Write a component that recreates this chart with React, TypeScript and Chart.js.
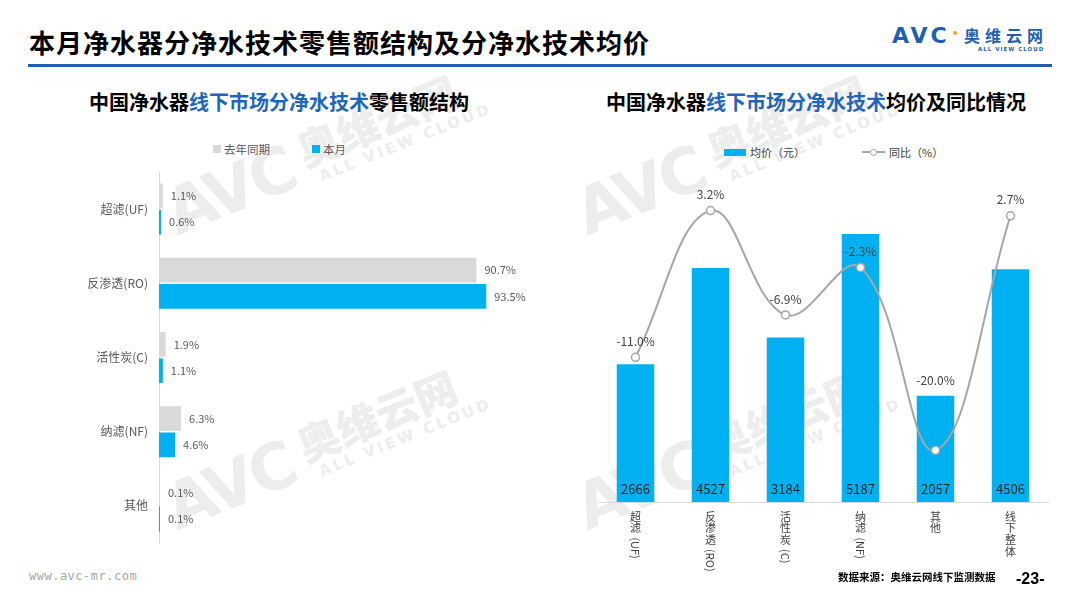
import React, { useEffect, useRef } from "react";
import { Chart, registerables } from "chart.js";

Chart.register(...registerables);

const CJK = "'Noto Sans CJK SC', 'Noto Sans', sans-serif";
Chart.defaults.font.family = CJK;

// ---- Data ----
const structCategories = ["超滤(UF)", "反渗透(RO)", "活性炭(C)", "纳滤(NF)", "其他"];
const lastYearShare = [1.1, 90.7, 1.9, 6.3, 0.1];
const thisMonthShare = [0.6, 93.5, 1.1, 4.6, 0.1];
const structSeriesNames = ["去年同期", "本月"];

const priceCategories = ["超滤(UF)", "反渗透(RO)", "活性炭(C)", "纳滤(NF)", "其他", "线下整体"];
const avgPrice = [2666, 4527, 3184, 5187, 2057, 4506];
const yoyChange = [-11.0, 3.2, -6.9, -2.3, -20.0, 2.7];
const priceSeriesNames = ["均价（元）", "同比（%）"];

const GREY = "#D9D9D9";
const BLUE = "#00B0F0";
const LINE_GREY = "#A6A6A6";

const structLabelPlugin = {
  id: "structLabels",
  afterDatasetsDraw(chart: any) {
    const ctx = chart.ctx;
    ctx.save();
    ctx.font = `11px ${CJK}`;
    ctx.fillStyle = "#595959";
    ctx.textBaseline = "middle";
    ctx.textAlign = "left";
    chart.data.datasets.forEach((ds: any, di: number) => {
      const meta = chart.getDatasetMeta(di);
      meta.data.forEach((el: any, i: number) => {
        const v = ds.data[i] as number;
        ctx.fillText(v.toFixed(1) + "%", el.x + 8, el.y);
      });
    });
    // category labels
    const ys = chart.scales.y;
    ctx.font = `12px ${CJK}`;
    ctx.textAlign = "right";
    (chart.data.labels as string[]).forEach((label, i) => {
      ctx.fillText(label, chart.chartArea.left - 11, ys.getPixelForValue(i));
    });
    ctx.restore();
  },
};

const priceLabelPlugin = {
  id: "priceLabels",
  afterDatasetsDraw(chart: any) {
    const ctx = chart.ctx;
    const barMeta = chart.getDatasetMeta(0);
    const lineMeta = chart.getDatasetMeta(1);
    const area = chart.chartArea;
    ctx.save();
    ctx.textAlign = "center";
    ctx.textBaseline = "middle";
    // bar values at the bottom of bars
    ctx.font = `13px ${CJK}`;
    ctx.fillStyle = "#262626";
    barMeta.data.forEach((el: any, i: number) => {
      ctx.fillText(String(chart.data.datasets[0].data[i]), el.x, area.bottom - 13);
    });
    // yoy labels
    ctx.font = `12px ${CJK}`;
    ctx.fillStyle = "#404040";
    lineMeta.data.forEach((pt: any, i: number) => {
      const bar = barMeta.data[i];
      let y = pt.y - 16;
      if (y > bar.y + 25) y = bar.y - 15;
      const v = chart.data.datasets[1].data[i] as number;
      ctx.fillText(v.toFixed(1) + "%", pt.x, y);
    });
    ctx.restore();
  },
  afterDraw(chart: any) {
    const ctx = chart.ctx;
    const xs = chart.scales.x;
    ctx.save();
    ctx.fillStyle = "#404040";
    (chart.data.labels as string[]).forEach((label, i) => {
      const x = xs.getPixelForValue(i);
      let y = chart.chartArea.bottom + 9;
      const segs = label.match(/[\u4e00-\u9fff]|[^\u4e00-\u9fff]+/g) || [];
      segs.forEach((seg) => {
        if (/[\u4e00-\u9fff]/.test(seg)) {
          ctx.font = `11px ${CJK}`;
          ctx.textAlign = "center";
          ctx.textBaseline = "top";
          ctx.fillText(seg, x, y);
          y += 11.7;
        } else {
          ctx.font = `11px ${CJK}`;
          y += 3;
          const w = ctx.measureText(seg).width;
          ctx.save();
          ctx.translate(x, y);
          ctx.rotate(Math.PI / 2);
          ctx.textAlign = "left";
          ctx.textBaseline = "middle";
          ctx.fillText(seg, 0, 0);
          ctx.restore();
          y += w + 2;
        }
      });
    });
    ctx.restore();
  },
};

function Watermark({ cx, cy }: { cx: number; cy: number }) {
  return (
    <div
      style={{
        position: "absolute",
        left: cx,
        top: cy,
        transform: "translate(-50%, -50%) rotate(-22deg)",
        display: "flex",
        alignItems: "flex-end",
        color: "#EDEDED",
        whiteSpace: "nowrap",
        fontWeight: 700,
        pointerEvents: "none",
      }}
    >
      <span style={{ fontFamily: "'DejaVu Sans', sans-serif", fontSize: 64, lineHeight: "60px", letterSpacing: -3 }}>AVC</span>
      <div style={{ marginLeft: 12, display: "flex", flexDirection: "column", alignItems: "flex-start" }}>
        <span style={{ fontFamily: CJK, fontSize: 42, lineHeight: "46px", fontWeight: 900 }}>奥维云网</span>
        <span style={{ fontFamily: "'DejaVu Sans', sans-serif", fontSize: 15, lineHeight: "18px", letterSpacing: 3, marginLeft: 10 }}>ALL VIEW CLOUD</span>
      </div>
    </div>
  );
}

export default function App() {
  const leftRef = useRef<HTMLCanvasElement>(null);
  const rightRef = useRef<HTMLCanvasElement>(null);

  useEffect(() => {
    const c1 = new Chart(leftRef.current as HTMLCanvasElement, {
      type: "bar",
      data: {
        labels: structCategories,
        datasets: [
          {
            label: structSeriesNames[0],
            data: lastYearShare,
            backgroundColor: GREY,
            categoryPercentage: 0.71,
            barPercentage: 0.94,
            minBarLength: 1,
          },
          {
            label: structSeriesNames[1],
            data: thisMonthShare,
            backgroundColor: BLUE,
            categoryPercentage: 0.71,
            barPercentage: 0.94,
            minBarLength: 1,
          },
        ],
      },
      options: {
        indexAxis: "y",
        responsive: false,
        animation: false,
        layout: { padding: { top: 7, bottom: 12, right: 31, left: 0 } },
        plugins: { legend: { display: false }, tooltip: { enabled: false } },
        scales: {
          x: { display: false, min: 0, max: 100 },
          y: {
            grid: { display: false, drawTicks: false },
            border: { display: true, color: GREY, width: 1 },
            ticks: { display: false },
            afterFit: (s: any) => {
              s.width = 79;
            },
          },
        },
      } as any,
      plugins: [structLabelPlugin],
    });

    const c2 = new Chart(rightRef.current as HTMLCanvasElement, {
      type: "bar",
      data: {
        labels: priceCategories,
        datasets: [
          {
            type: "bar",
            label: priceSeriesNames[0],
            data: avgPrice,
            backgroundColor: BLUE,
            yAxisID: "y",
            order: 2,
            categoryPercentage: 1,
            barPercentage: 0.5,
          },
          {
            type: "line",
            label: priceSeriesNames[1],
            data: yoyChange,
            yAxisID: "y2",
            borderColor: LINE_GREY,
            borderWidth: 2,
            tension: 0.4,
            pointRadius: 4,
            pointBackgroundColor: "#FFFFFF",
            pointBorderColor: LINE_GREY,
            pointBorderWidth: 1.5,
            order: 1,
            clip: false,
          },
        ],
      } as any,
      options: {
        responsive: false,
        animation: false,
        layout: { padding: { left: 8, right: 12, top: 22, bottom: 78 } },
        plugins: { legend: { display: false }, tooltip: { enabled: false } },
        scales: {
          x: {
            grid: { display: false, drawTicks: false },
            border: { display: true, color: GREY, width: 1 },
            ticks: { display: false },
          },
          y: { display: false, min: 0, max: 6000 },
          y2: { display: false, min: -25, max: 5 },
        },
      } as any,
      plugins: [priceLabelPlugin],
    });

    return () => {
      c1.destroy();
      c2.destroy();
    };
  }, []);

  const textBase: React.CSSProperties = { position: "absolute", whiteSpace: "nowrap", fontFamily: CJK };

  return (
    <div
      style={{
        position: "absolute",
        left: 0,
        top: 0,
        width: 1080,
        height: 608,
        background: "#FFFFFF",
        overflow: "hidden",
      }}
    >
      <Watermark cx={325} cy={150} />
      <Watermark cx={325} cy={445} />
      <Watermark cx={735} cy={150} />
      <Watermark cx={735} cy={445} />

      {/* Header */}
      <div style={{ ...textBase, left: 29, top: 27, fontSize: 26, lineHeight: "30px", fontWeight: 700, color: "#000", letterSpacing: 1 }}>
        本月净水器分净水技术零售额结构及分净水技术均价
      </div>
      <div style={{ position: "absolute", left: 28, top: 64, width: 1024, height: 3, background: "#1F5FAF" }} />

      {/* Logo */}
      <div style={{ ...textBase, left: 892, top: 23, fontFamily: "'DejaVu Sans', sans-serif", fontSize: 22, lineHeight: "26px", fontWeight: 700, color: "#1F5FAF", letterSpacing: 3 }}>
        AVC
      </div>
      <div style={{ position: "absolute", left: 953, top: 31, width: 4, height: 4, borderRadius: 2, background: "#F5A623" }} />
      <div style={{ ...textBase, left: 964, top: 25, fontSize: 16, lineHeight: "20px", fontWeight: 700, color: "#1F5FAF", letterSpacing: 5 }}>
        奥维云网
      </div>
      <div style={{ ...textBase, left: 978, top: 45, fontFamily: "'DejaVu Sans', sans-serif", fontSize: 5.5, lineHeight: "8px", fontWeight: 700, color: "#1F5FAF", letterSpacing: 1 }}>
        ALL VIEW CLOUD
      </div>

      {/* Left subtitle */}
      <div style={{ ...textBase, left: 279, top: 90, transform: "translateX(-50%)", fontSize: 20, lineHeight: "24px", fontWeight: 700, color: "#000" }}>
        中国净水器<span style={{ color: "#1F66B8" }}>线下市场分净水技术</span>零售额结构
      </div>
      {/* Right subtitle */}
      <div style={{ ...textBase, left: 816, top: 90, transform: "translateX(-50%)", fontSize: 20, lineHeight: "24px", fontWeight: 700, color: "#000" }}>
        中国净水器<span style={{ color: "#1F66B8" }}>线下市场分净水技术</span>均价及同比情况
      </div>

      {/* Left legend */}
      <div style={{ position: "absolute", left: 213, top: 145, width: 8, height: 8, background: GREY }} />
      <div style={{ ...textBase, left: 224, top: 141, fontSize: 11.5, lineHeight: "16px", color: "#595959" }}>{structSeriesNames[0]}</div>
      <div style={{ position: "absolute", left: 312, top: 145, width: 8, height: 8, background: BLUE }} />
      <div style={{ ...textBase, left: 323, top: 141, fontSize: 11.5, lineHeight: "16px", color: "#595959" }}>{structSeriesNames[1]}</div>

      {/* Right legend */}
      <div style={{ position: "absolute", left: 724, top: 149, width: 22, height: 7, background: BLUE }} />
      <div style={{ ...textBase, left: 750, top: 144, fontSize: 11, lineHeight: "16px", color: "#404040" }}>{priceSeriesNames[0]}</div>
      <div style={{ position: "absolute", left: 862, top: 151, width: 23, height: 1.5, background: LINE_GREY }} />
      <div style={{ position: "absolute", left: 869.5, top: 148.5, width: 5, height: 5, borderRadius: 4, background: "#fff", border: `1px solid ${LINE_GREY}` }} />
      <div style={{ ...textBase, left: 889, top: 144, fontSize: 11, lineHeight: "16px", color: "#404040" }}>{priceSeriesNames[1]}</div>

      {/* Charts */}
      <canvas ref={leftRef} width={460} height={390} style={{ position: "absolute", left: 80, top: 165 }} />
      <canvas ref={rightRef} width={470} height={410} style={{ position: "absolute", left: 590, top: 170 }} />

      {/* Footer */}
      <div style={{ ...textBase, left: 29, top: 568, fontFamily: "'DejaVu Sans Mono', monospace", fontSize: 12, lineHeight: "16px", color: "#A6A6A6", letterSpacing: 0.5 }}>
        www.avc-mr.com
      </div>
      <div style={{ ...textBase, left: 838, top: 570, fontSize: 10.5, lineHeight: "14px", fontWeight: 700, color: "#000" }}>
        数据来源：奥维云网线下监测数据
      </div>
      <div style={{ ...textBase, left: 1016, top: 569, fontFamily: "'Liberation Sans', sans-serif", fontSize: 16, lineHeight: "20px", fontWeight: 700, color: "#000" }}>
        -23-
      </div>
    </div>
  );
}
